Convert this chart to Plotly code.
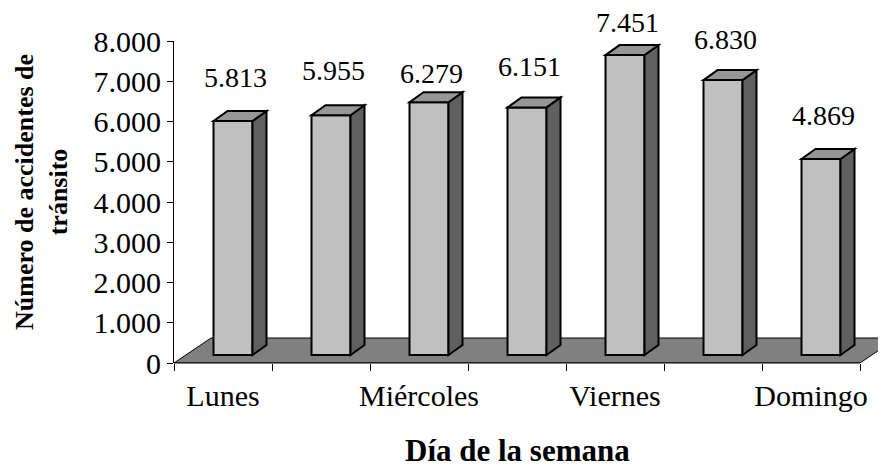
import plotly.graph_objects as go

# ---------------- data ----------------
days = ["Lunes", "Martes", "Miércoles", "Jueves", "Viernes", "Sábado", "Domingo"]
accidents = [5813, 5955, 6279, 6151, 7451, 6830, 4869]
y_ticks = [0, 1000, 2000, 3000, 4000, 5000, 6000, 7000, 8000]
x_title = "Día de la semana"
y_title = "Número de accidentes de<br>tránsito"

# ---------------- geometry / style ----------------
PAGE_OFF = 8                      # default body margin of the html page
W, H = 886 - PAGE_OFF, 472 - PAGE_OFF
L = 174 - PAGE_OFF
T = 41 - PAGE_OFF
B = H - (363 - PAGE_OFF)
R = 0
PX_PER_CAT = 98.0
X0 = -0.5
X1 = X0 + (W - L - R) / PX_PER_CAT
YMAX = y_ticks[-1]
PX_PER_UNIT = (H - T - B) / YMAX

def dxu(px):
    return px / PX_PER_CAT

def dyu(px):
    return px / PX_PER_UNIT

def paper_x(page_px):
    return (page_px - PAGE_OFF - L) / (W - L - R)

def paper_y(page_px):
    return (H - B - (page_px - PAGE_OFF)) / (H - T - B)

FONT = "Liberation Serif"
base = dyu(8)
bar_w = dxu(39)
bar_off = dxu(-9.5)
dep_dx, dep_dy = dxu(14), dyu(10)
floor_dx, floor_dy = dxu(37), dyu(25)
label_lift = [44, 45, 29, 41, 33, 41, 44]   # px above bar top (label centre)

FRONT = "#C0C0C0"
SIDE = "#606060"
TOP = "#969696"
FLOOR = "#808080"

n = len(days)
xs = list(range(n))
xa, xb = X0, X0 + n

fig = go.Figure()
fig.add_trace(go.Bar(
    x=xs, y=accidents, base=base, width=bar_w, offset=bar_off,
    marker=dict(color=FRONT, line=dict(color="black", width=2)),
    hoverinfo="skip", showlegend=False,
))

shapes = []
# floor
shapes.append(dict(
    type="path", xref="x", yref="y", layer="below",
    path=f"M{xa},0 L{xb},0 L{xb + floor_dx},{floor_dy} L{xa + floor_dx},{floor_dy} Z",
    fillcolor=FLOOR, line=dict(color="black", width=1),
))
for i, v in enumerate(accidents):
    x0 = i + bar_off
    x1 = x0 + bar_w
    top = base + v
    shapes.append(dict(
        type="path", xref="x", yref="y", layer="above",
        path=(f"M{x1},{base} L{x1 + dep_dx},{base + dep_dy} "
              f"L{x1 + dep_dx},{top + dep_dy} L{x1},{top} Z"),
        fillcolor=SIDE, line=dict(color="black", width=2),
    ))
    shapes.append(dict(
        type="path", xref="x", yref="y", layer="above",
        path=(f"M{x0},{top} L{x0 + dep_dx},{top + dep_dy} "
              f"L{x1 + dep_dx},{top + dep_dy} L{x1},{top} Z"),
        fillcolor=TOP, line=dict(color="black", width=2),
    ))
# x axis line (category span only)
shapes.append(dict(
    type="line", xref="paper", yref="paper",
    x0=0, x1=(xb - X0) / (X1 - X0), y0=0, y1=0,
    line=dict(color="black", width=1), layer="above",
))

annotations = []
for i, v in enumerate(accidents):
    annotations.append(dict(
        x=i + bar_off + bar_w / 2, y=base + v, xref="x", yref="y",
        text=f"{v:,}".replace(",", "."), showarrow=False,
        xanchor="center", yanchor="middle", xshift=2, yshift=label_lift[i],
        font=dict(family=FONT, size=28, color="black"),
    ))
annotations.append(dict(
    x=(xa + xb) / 2, xref="x", y=paper_y(450), yref="paper",
    text=f"<b>{x_title}</b>", showarrow=False,
    xanchor="center", yanchor="middle",
    font=dict(family=FONT, size=31, color="black"),
))
annotations.append(dict(
    x=paper_x(41), xref="paper", y=paper_y(192), yref="paper",
    text=f"<b>{y_title}</b>", showarrow=False, textangle=-90,
    xanchor="center", yanchor="middle",
    font=dict(family=FONT, size=26, color="black"),
))

tick_idx = [i for i in xs if i % 2 == 0]
fig.update_layout(
    width=W, height=H,
    margin=dict(l=L, r=R, t=T, b=B, pad=0),
    paper_bgcolor="white", plot_bgcolor="white",
    separators=",.",
    showlegend=False,
    shapes=shapes, annotations=annotations,
    font=dict(family=FONT, color="black"),
    xaxis=dict(
        range=[X0, X1], showgrid=False, zeroline=False, showline=False,
        tickmode="array", tickvals=tick_idx, ticktext=[days[i] for i in tick_idx],
        ticks="", ticklabelstandoff=12,
        tickfont=dict(family=FONT, size=30, color="black"),
        minor=dict(tickmode="array", tickvals=[k - 0.5 for k in range(n + 1)],
                   ticks="outside", ticklen=7, tickwidth=1, tickcolor="black"),
    ),
    yaxis=dict(
        range=[0, YMAX], showgrid=False, zeroline=False,
        showline=True, linecolor="black", linewidth=1,
        tickmode="array", tickvals=y_ticks, tickformat=",d",
        ticks="outside", ticklen=6, tickwidth=1, tickcolor="black",
        tickfont=dict(family=FONT, size=30, color="black"),
    ),
)

fig.write_html("out.html")
